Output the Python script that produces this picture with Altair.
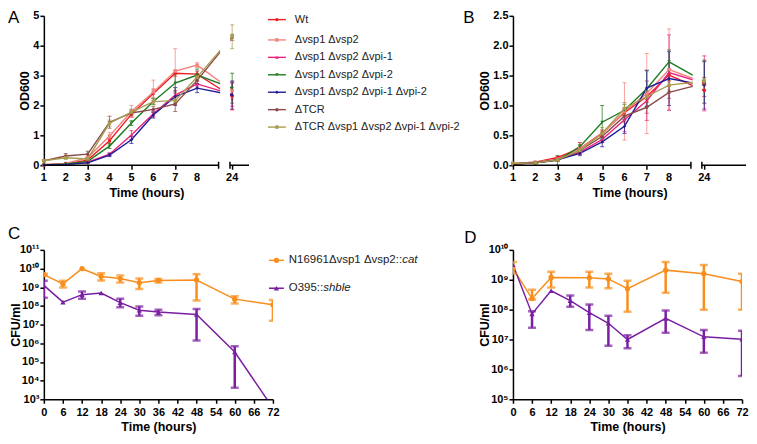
import altair as alt
import pandas as pd

FONT = "Liberation Sans"

# ---------------- Panels A & B : OD600 growth curves ----------------
HOURS_AB = [1, 2, 3, 4, 5, 6, 7, 8, 24]
STRAINS = ["Wt", "Δvsp1 Δvsp2", "Δvsp1 Δvsp2 Δvpi-1", "Δvsp1 Δvsp2 Δvpi-2",
           "Δvsp1 Δvsp2 Δvpi-1 Δvpi-2", "ΔTCR", "ΔTCR Δvsp1 Δvsp2 Δvpi-1 Δvpi-2"]
STRAIN_COLORS = ["#ee1c24", "#f4837d", "#ec1f7a", "#1e7a1e", "#1c1c96", "#8b4a4a", "#a89c4e"]
STRAIN_SHAPES = ["circle", "square", "triangle-up", "triangle-down", "diamond", "circle", "square"]

A_WT = [0.02, 0.05, 0.17, 0.82, 1.71, 2.40, 3.08, 3.05, 2.30]
A_V12 = [0.02, 0.06, 0.25, 0.98, 1.80, 2.45, 3.15, 3.35, 2.50]
A_V12P1 = [0.01, 0.03, 0.10, 0.37, 1.01, 1.72, 2.35, 2.72, 2.37]
A_V12P2 = [0.01, 0.04, 0.13, 0.64, 1.41, 2.13, 2.75, 3.02, 2.58]
A_V12P12 = [0.01, 0.03, 0.08, 0.34, 0.85, 1.68, 2.30, 2.58, 2.35]
A_TCR = [0.15, 0.31, 0.37, 1.44, 1.75, 1.87, 2.05, 2.84, 4.28]
A_TCRALL = [0.15, 0.25, 0.21, 1.41, 1.78, 2.13, 2.16, 2.95, 4.30]

A_WT_SD = [0.01, 0.02, 0.03, 0.08, 0.10, 0.15, 0.10, 0.10, 0.45]
A_V12_SD = [0.01, 0.02, 0.05, 0.12, 0.20, 0.40, 0.75, 0.08, 0.30]
A_V12P1_SD = [0.01, 0.01, 0.02, 0.05, 0.15, 0.10, 0.15, 0.10, 0.40]
A_V12P2_SD = [0.01, 0.01, 0.03, 0.08, 0.08, 0.10, 0.30, 0.20, 0.50]
A_V12P12_SD = [0.01, 0.01, 0.02, 0.05, 0.12, 0.10, 0.30, 0.15, 0.47]
A_TCR_SD = [0.02, 0.08, 0.10, 0.20, 0.10, 0.10, 0.25, 0.10, 0.10]
A_TCRALL_SD = [0.02, 0.05, 0.05, 0.10, 0.10, 0.10, 0.10, 0.10, 0.40]

B_WT = [0.03, 0.05, 0.13, 0.28, 0.54, 0.88, 1.15, 1.51, 1.25]
B_V12 = [0.03, 0.05, 0.10, 0.28, 0.52, 0.90, 1.20, 1.60, 1.38]
B_V12P1 = [0.02, 0.04, 0.09, 0.22, 0.43, 0.76, 1.08, 1.55, 1.37]
B_V12P2 = [0.02, 0.04, 0.08, 0.31, 0.72, 0.92, 1.28, 1.73, 1.40]
B_V12P12 = [0.02, 0.04, 0.09, 0.20, 0.39, 0.65, 1.29, 1.45, 1.34]
B_TCR = [0.02, 0.04, 0.09, 0.25, 0.48, 0.82, 0.97, 1.22, 1.37]
B_TCRALL = [0.03, 0.04, 0.09, 0.25, 0.53, 0.95, 1.15, 1.34, 1.41]

B_WT_SD = [0.005, 0.01, 0.02, 0.10, 0.05, 0.05, 0.05, 0.10, 0.10]
B_V12_SD = [0.005, 0.01, 0.02, 0.04, 0.05, 0.48, 0.67, 0.68, 0.35]
B_V12P1_SD = [0.005, 0.01, 0.02, 0.04, 0.05, 0.20, 0.33, 0.63, 0.46]
B_V12P2_SD = [0.005, 0.01, 0.08, 0.04, 0.28, 0.10, 0.30, 0.20, 0.36]
B_V12P12_SD = [0.005, 0.01, 0.02, 0.04, 0.08, 0.12, 0.30, 0.45, 0.40]
B_TCR_SD = [0.005, 0.01, 0.02, 0.04, 0.05, 0.10, 0.10, 0.10, 0.10]
B_TCRALL_SD = [0.005, 0.01, 0.02, 0.04, 0.10, 0.10, 0.10, 0.08, 0.05]

# ---------------- Panels C & D : CFU/ml survival ----------------
CFU_STRAINS = ["N16961Δvsp1 Δvsp2::cat", "O395::shble"]
CFU_COLORS = ["#f98e1d", "#7a1fa2"]
CFU_SHAPES = ["circle", "triangle-up"]
LEGEND_MAIN = ["N16961Δvsp1 Δvsp2::", "O395::"]
LEGEND_ITALIC = ["cat", "shble"]

C_HOURS = [0, 6, 12, 18, 24, 30, 36, 48, 60, 72]
C_N16961 = [4.7e9, 1.5e9, 9.8e9, 3.8e9, 2.9e9, 1.75e9, 2.3e9, 2.45e9, 2.3e8, 1.15e8]
C_N16961_LO = [4.2e9, 9.8e8, None, 2.3e9, 1.8e9, 8.1e8, 1.8e9, 1.95e8, 1.35e8, 1.6e7]
C_N16961_HI = [5.2e9, 2.2e9, None, 5.6e9, 4.3e9, 2.9e9, 2.75e9, 5.0e9, 3.3e8, 2.1e8]
C_O395 = [1.25e9, 1.6e8, 4.0e8, 4.9e8, 1.5e8, 5.9e7, 4.7e7, 3.5e7, 3.4e5, 3.4e2]
C_O395_LO = [2.75e8, None, 2.45e8, None, 8.5e7, 3.0e7, 3.2e7, 1.4e6, 4.2e3, None]
C_O395_HI = [2.2e9, None, 5.9e8, None, 2.45e8, 9.3e7, 6.3e7, 6.9e7, 6.9e5, None]

D_HOURS_N16961 = [0, 6, 12, 24, 30, 36, 48, 60, 72]
D_N16961 = [2.4e9, 2.35e8, 1.2e9, 1.17e9, 1.07e9, 5.0e8, 2.1e9, 1.6e9, 8.7e8]
D_N16961_LO = [1.6e9, 2.2e8, 5.5e8, 5.5e8, 5.2e8, 8.5e7, 3.7e8, 1.0e8, 1.0e8]
D_N16961_HI = [3.9e9, 4.6e8, 1.85e9, 1.85e9, 1.6e9, 9.3e8, 3.9e9, 3.1e9, 1.6e9]
D_HOURS_O395 = [0, 6, 12, 18, 24, 30, 36, 48, 60, 72]
D_O395 = [3.2e9, 7.2e7, 4.3e8, 2.0e8, 7.9e7, 3.5e7, 1.0e7, 5.1e7, 1.23e7, 1.02e7]
D_O395_LO = [None, 2.5e7, None, 1.26e8, 2.1e7, 6.2e6, 5.1e6, 1.7e7, 3.6e6, 6.0e5]
D_O395_HI = [None, 8.9e7, None, 2.95e8, 1.48e8, 6.3e7, 1.4e7, 9.3e7, 2.1e7, 1.95e7]

# ---------------- layout constants ----------------
XL = 44            # expected page x of left plots
H_TOP = 150
H_BOT = 150
W_A = 250 - XL
W_B = 234
W_C = 274 - XL
W_D = 230

SUPERS = ["⁰", "¹", "²", "³", "⁴", "⁵", "⁶", "⁷", "⁸", "⁹", "¹⁰", "¹¹"]
ARIAL_W = {"N": 722, "O": 778, "Δ": 667, "v": 500, "s": 500, "p": 556, " ": 278, ":": 278}
LEG_C_FS = 11.5


def text_width(s, size):
    return sum(ARIAL_W.get(ch, 556) for ch in s) * size / 1000.0


def letter(ch, x, y):
    return alt.Chart(pd.DataFrame({"k": [0]})).mark_text(
        text=ch, font=FONT, fontSize=17, align="left", baseline="top", color="black"
    ).encode(x=alt.value(x), y=alt.value(y))


def od_panel(means, sds, width, height, ymax, yvals, yfmt, xmax, p24, brk_end, brk_start,
             line_end, tag, tag_x, with_legend):
    rows = []
    for strain, m, sd in zip(STRAINS, means, sds):
        for h, v, e in zip(HOURS_AB, m, sd):
            rows.append({"strain": strain, "hour": h, "pos": h if h <= 8 else p24,
                         "od": v, "lo": max(v - e, 0.0), "hi": v + e})
    df = pd.DataFrame(rows)
    color = alt.Color("strain:N", scale=alt.Scale(domain=STRAINS, range=STRAIN_COLORS), legend=None)
    shape = alt.Shape("strain:N", scale=alt.Scale(domain=STRAINS, range=STRAIN_SHAPES), legend=None)
    xs = alt.Scale(domain=[1, xmax], nice=False, zero=False)
    ys = alt.Scale(domain=[0, ymax], nice=False, zero=False)
    tick_pos = [h if h <= 8 else p24 for h in HOURS_AB]
    xaxis = alt.Axis(values=tick_pos, labels=False, domain=False, title="Time (hours)",
                     titlePadding=17)
    yaxis = alt.Axis(values=yvals, format=yfmt, title="OD600", labelOverlap=False)
    X = alt.X("pos:Q", scale=xs, axis=xaxis)
    Y = alt.Y("od:Q", scale=ys, axis=yaxis)
    base = alt.Chart(df)
    lines = base.mark_line(strokeWidth=1.4).encode(X, Y, color)
    gap = alt.Chart(pd.DataFrame({"k": [0]})).mark_rect(color="white").encode(
        x=alt.datum(line_end), x2=alt.datum(brk_start), y=alt.value(0), y2=alt.value(height))
    errs = base.mark_errorbar(ticks={"size": 4}, thickness=1, opacity=0.75).encode(
        X, alt.Y("lo:Q", scale=ys, axis=yaxis), alt.Y2("hi:Q"), color)
    pts = base.mark_point(filled=True, size=12, opacity=1).encode(X, Y, color, shape)
    segs = pd.DataFrame({"x0": [1, brk_start], "x1": [brk_end, xmax]})
    axis_line = alt.Chart(segs).mark_rule(color="black", strokeWidth=1.5).encode(
        x=alt.X("x0:Q", scale=xs, axis=xaxis), x2="x1:Q", y=alt.value(height))
    brks = pd.DataFrame({"x0": [brk_end, brk_start]})
    brk_marks = alt.Chart(brks).mark_rule(color="black", strokeWidth=1.5).encode(
        x=alt.X("x0:Q", scale=xs, axis=xaxis), y=alt.value(height - 3.5), y2=alt.value(height + 3.5))
    tick_labels = alt.Chart(pd.DataFrame({"pos": tick_pos, "lab": [str(h) for h in HOURS_AB]})).mark_text(
        font=FONT, fontSize=11, fontWeight="bold", baseline="top", align="center", color="black"
    ).encode(x=alt.X("pos:Q", scale=xs, axis=xaxis), y=alt.value(height + 7), text="lab:N")
    data_layer = alt.layer(lines, gap, errs, pts, axis_line, brk_marks, tick_labels,
                           letter(tag, tag_x, -5.5))
    if not with_legend:
        return data_layer.properties(width=width, height=height)
    leg = alt.Chart(pd.DataFrame({"strain": STRAINS, "i": list(range(len(STRAINS)))})).transform_calculate(
        ly="datum.i == 0 ? 3.8 : 24.2 + (datum.i - 1) * 17.5")
    LY = alt.Y("ly:Q", scale=alt.Scale(domain=[0, height], range=[0, height]), axis=None)
    lx = 269 - XL
    leg_rule = leg.mark_rule(strokeWidth=1.4).encode(x=alt.value(lx), x2=alt.value(lx + 18), y=LY, color=color)
    leg_pt = leg.mark_point(filled=True, size=12, opacity=1).encode(
        x=alt.value(lx + 9), y=LY, color=color, shape=shape)
    leg_txt = leg.mark_text(align="left", baseline="middle", font=FONT, fontSize=11, color="#222").encode(
        x=alt.value(lx + 27), y=LY, text="strain:N")
    legend_layer = alt.layer(leg_rule, leg_pt, leg_txt)
    return alt.layer(data_layer, legend_layer).resolve_scale(y="independent").properties(
        width=width, height=height)


def cfu_panel(series, width, height, ylo, yhi, tag, tag_x, tag_y, with_legend):
    frames, err_frames = [], []
    for strain, hours, mean, lo, hi in series:
        for h, m, l, u in zip(hours, mean, lo, hi):
            frames.append({"strain": strain, "hour": h, "cfu": m})
            if l is not None:
                err_frames.append({"strain": strain, "hour": h, "lo": l, "hi": u})
    df = pd.DataFrame(frames)
    edf = pd.DataFrame(err_frames)
    color = alt.Color("strain:N", scale=alt.Scale(domain=CFU_STRAINS, range=CFU_COLORS), legend=None)
    shape = alt.Shape("strain:N", scale=alt.Scale(domain=CFU_STRAINS, range=CFU_SHAPES), legend=None)
    xs = alt.Scale(domain=[0, 72], nice=False, zero=False)
    ys = alt.Scale(type="log", domain=[10 ** ylo, 10 ** yhi], nice=False)
    sup_list = "[" + ",".join("'%s'" % s for s in SUPERS) + "]"
    xaxis = alt.Axis(values=list(range(0, 73, 6)), title="Time (hours)",
                     labelOverlap=False, labelFlush=False)
    yaxis = alt.Axis(values=[10.0 ** e for e in range(ylo, yhi + 1)],
                     labelExpr="'10' + " + sup_list + "[round(log(datum.value) / LN10)]",
                     title="CFU/ml", titlePadding=-3, labelOverlap=False)
    X = alt.X("hour:Q", scale=xs, axis=xaxis)
    lines = alt.Chart(df).mark_line(strokeWidth=1.5, clip=True).encode(
        X, alt.Y("cfu:Q", scale=ys, axis=yaxis), color)
    errs = alt.Chart(edf).mark_errorbar(ticks={"size": 8}, thickness=2.5, clip=True).encode(
        X, alt.Y("lo:Q", scale=ys, axis=yaxis), alt.Y2("hi:Q"), color)
    pts = alt.Chart(df).mark_point(filled=True, size=28, opacity=1, clip=True).encode(
        X, alt.Y("cfu:Q", scale=ys, axis=yaxis), color, shape)
    layers = [lines, errs, pts, letter(tag, tag_x, tag_y)]
    if with_legend:
        lx = 270 - XL
        rows_y = [10.5, 38.5]
        one = pd.DataFrame({"k": [0]})
        for i in range(2):
            ly = rows_y[i]
            layers.append(alt.Chart(one).mark_rule(color=CFU_COLORS[i], strokeWidth=1.5).encode(
                x=alt.value(lx), x2=alt.value(lx + 15), y=alt.value(ly)))
            layers.append(alt.Chart(one).mark_point(filled=True, size=28, opacity=1,
                                                    shape=CFU_SHAPES[i], color=CFU_COLORS[i]).encode(
                x=alt.value(lx + 7.5), y=alt.value(ly)))
            layers.append(alt.Chart(one).mark_text(text=LEGEND_MAIN[i], font=FONT, fontSize=LEG_C_FS,
                                                   align="left", baseline="middle", color="#222").encode(
                x=alt.value(lx + 20), y=alt.value(ly)))
            layers.append(alt.Chart(one).mark_text(text=LEGEND_ITALIC[i], font=FONT, fontSize=LEG_C_FS,
                                                   fontStyle="italic", align="left", baseline="middle",
                                                   color="#222").encode(
                x=alt.value(lx + 20 + text_width(LEGEND_MAIN[i], LEG_C_FS)), y=alt.value(ly)))
    return alt.layer(*layers).properties(width=width, height=height)


panel_a = od_panel([A_WT, A_V12, A_V12P1, A_V12P2, A_V12P12, A_TCR, A_TCRALL],
                   [A_WT_SD, A_V12_SD, A_V12P1_SD, A_V12P2_SD, A_V12P12_SD, A_TCR_SD, A_TCRALL_SD],
                   W_A, H_TOP, 5, [0, 1, 2, 3, 4, 5], "d", 10.37, 9.6, 8.98, 9.5, 9.05,
                   "A", 8 - XL, True)
panel_b = od_panel([B_WT, B_V12, B_V12P1, B_V12P2, B_V12P12, B_TCR, B_TCRALL],
                   [B_WT_SD, B_V12_SD, B_V12P1_SD, B_V12P2_SD, B_V12P12_SD, B_TCR_SD, B_TCRALL_SD],
                   W_B, H_TOP, 2.5, [0, 0.5, 1, 1.5, 2, 2.5], ".1f", 11.45, 9.58, 8.98, 9.47, 9.06,
                   "B", 465 - 515, False)
panel_c = cfu_panel([(CFU_STRAINS[0], C_HOURS, C_N16961, C_N16961_LO, C_N16961_HI),
                     (CFU_STRAINS[1], C_HOURS, C_O395, C_O395_LO, C_O395_HI)],
                    W_C, H_BOT, 3, 11, "C", 8 - XL, -24, True)
panel_d = cfu_panel([(CFU_STRAINS[0], D_HOURS_N16961, D_N16961, D_N16961_LO, D_N16961_HI),
                     (CFU_STRAINS[1], D_HOURS_O395, D_O395, D_O395_LO, D_O395_HI)],
                    W_D, H_BOT, 5, 10, "D", 466 - 515, -20, False)

chart = alt.concat(panel_a, panel_b, panel_c, panel_d, columns=2,
                   spacing={"row": 85, "column": 515 - 274},
                   bounds="flush", align="each").resolve_scale(
    color="independent", shape="independent"
).properties(
    padding=0, background="white"
).configure_view(stroke=None).configure_axis(
    labelFont=FONT, labelFontSize=11, labelFontWeight="bold", labelColor="black",
    titleFont=FONT, titleFontSize=12.5, titleFontWeight="bold", titleColor="black",
    domainColor="black", domainWidth=1.5, tickColor="black", tickWidth=1.5, tickSize=4,
    grid=False, labelFlush=False, labelOverlap=False
).configure_axisX(labelPadding=3, titlePadding=3).configure_axisY(labelPadding=1, titlePadding=1)

chart.save("out.html", embed_options={"renderer": "svg", "actions": False})
